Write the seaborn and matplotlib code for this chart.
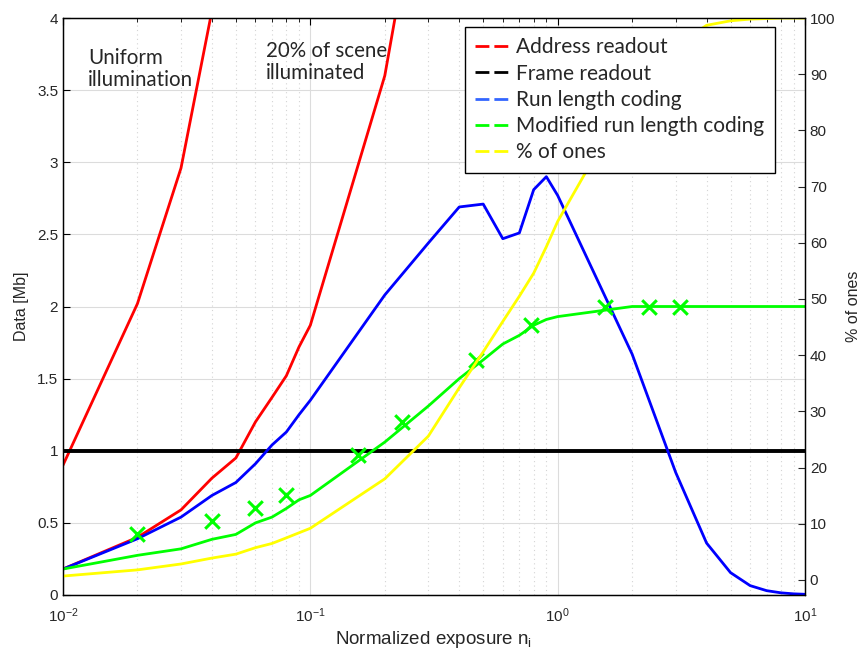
import matplotlib
matplotlib.use("Agg")
import matplotlib.pyplot as plt
import seaborn as sns
from matplotlib.lines import Line2D
from matplotlib.ticker import MultipleLocator, LogLocator, NullFormatter, FormatStrFormatter

# ---- data ----
x_uniform = [0.01, 0.02, 0.03, 0.04, 0.05]
addr_uniform = [0.90, 2.02, 2.96, 4.05, 5.3]

x_scene = [0.01, 0.02, 0.03, 0.04, 0.05, 0.06, 0.07, 0.08, 0.09, 0.1, 0.2, 0.3]
addr_scene = [0.18, 0.40, 0.59, 0.81, 0.95, 1.20, 1.37, 1.52, 1.72, 1.87, 3.60, 5.3]

frame_x = [0.01, 10]
frame_y = [1.0, 1.0]

x_rlc = [0.01, 0.02, 0.03, 0.04, 0.05, 0.06, 0.07, 0.08, 0.09, 0.1, 0.2, 0.3, 0.4, 0.5,
         0.6, 0.7, 0.8, 0.9, 1, 2, 3, 4, 5, 6, 7, 8, 9, 10]
rlc = [0.18, 0.39, 0.54, 0.69, 0.78, 0.91, 1.04, 1.13, 1.25, 1.35, 2.08, 2.44, 2.69, 2.71,
       2.47, 2.51, 2.81, 2.90, 2.77, 1.67, 0.85, 0.36, 0.155, 0.065, 0.03, 0.015, 0.008, 0.005]

x_mrlc = [0.01, 0.02, 0.03, 0.04, 0.05, 0.06, 0.07, 0.08, 0.09, 0.1, 0.2, 0.3, 0.4, 0.5,
          0.6, 0.7, 0.8, 0.9, 1, 2, 3, 4, 5, 6, 7, 8, 9, 10]
mrlc = [0.18, 0.275, 0.32, 0.386, 0.42, 0.50, 0.54, 0.60, 0.66, 0.69, 1.06, 1.31, 1.50, 1.63,
        1.74, 1.80, 1.87, 1.91, 1.93, 2.0, 2.0, 2.0, 2.0, 2.0, 2.0, 2.0, 2.0, 2.0]

# measured points (x markers)
meas_x = [0.02, 0.04, 0.06, 0.08, 0.156, 0.234, 0.468, 0.78, 1.56, 2.34, 3.12]
meas_y = [0.42, 0.515, 0.60, 0.69, 0.97, 1.20, 1.63, 1.87, 2.0, 2.0, 2.0]

x_ones = [0.01, 0.02, 0.03, 0.04, 0.05, 0.06, 0.07, 0.08, 0.09, 0.1, 0.2, 0.3, 0.4, 0.5,
          0.6, 0.7, 0.8, 0.9, 1, 2, 3, 4, 5, 6, 7, 8, 9, 10]
ones = [0.7, 1.8, 2.85, 3.9, 4.6, 5.75, 6.5, 7.5, 8.4, 9.2, 18.0, 25.6, 34.2, 40.6,
        46.0, 50.5, 54.6, 59.3, 63.8, 87.0, 95.0, 98.7, 99.5, 99.8, 99.9, 100, 100, 100]

legend_labels = ["Address readout", "Frame readout", "Run length coding",
                 "Modified run length coding", "% of ones"]
RED, BLACK, BLUE, GREEN, YELLOW = "#ff0000", "#000000", "#0000ff", "#00ff00", "#ffff00"

sns.set_style("white")
plt.rcParams['font.family'] = ['Liberation Sans', 'DejaVu Sans']
plt.rcParams['mathtext.default'] = 'regular'
plt.rcParams['axes.unicode_minus'] = False

fig = plt.figure(figsize=(8.67, 6.56), dpi=100)
ax = fig.add_axes([63 / 867, 1 - 595 / 656, 742 / 867, 577 / 656])

lw = 2.0
sns.lineplot(x=x_uniform, y=addr_uniform, color=RED, lw=lw, errorbar=None, ax=ax)
sns.lineplot(x=x_scene, y=addr_scene, color=RED, lw=lw, errorbar=None, ax=ax)
sns.lineplot(x=frame_x, y=frame_y, color=BLACK, lw=2.8, errorbar=None, ax=ax)
sns.lineplot(x=x_rlc, y=rlc, color=BLUE, lw=lw, errorbar=None, ax=ax)
sns.lineplot(x=x_mrlc, y=mrlc, color=GREEN, lw=lw, errorbar=None, ax=ax)
sns.scatterplot(x=meas_x, y=meas_y, marker="x", s=110, color=GREEN, linewidth=2.2, ax=ax, zorder=4)

ax.set_xscale("log")
ax.set_xlim(0.01, 10)
ax.set_ylim(0, 4)
ax.yaxis.set_major_locator(MultipleLocator(0.5))
ax.yaxis.set_major_formatter(FormatStrFormatter("%g"))
ax.xaxis.set_minor_locator(LogLocator(base=10, subs=range(2, 10)))
ax.xaxis.set_minor_formatter(NullFormatter())
ax.set_axisbelow(True)
ax.grid(which="major", color="#dcdcdc", lw=0.8)
ax.xaxis.grid(which="minor", color="#d4d4d4", lw=0.8, ls=(0, (1, 3)))
ax.tick_params(which="both", direction="in", top=True, right=False, labelsize=11,
               colors="black", labelcolor="#262626")
ax.tick_params(which="major", length=5, width=0.8)
ax.tick_params(which="minor", length=3, width=0.6)
ax.tick_params(axis="x", pad=8)
ax.set_xlabel("Normalized exposure n$_i$", fontsize=13.5, color="#262626", labelpad=3)
ax.set_ylabel("Data [Mb]", fontsize=11.5, color="#262626", labelpad=6)

ax2 = ax.twinx()
sns.lineplot(x=x_ones, y=ones, color=YELLOW, lw=lw, errorbar=None, ax=ax2)
ax2.set_ylim(-2.67, 100)
ax2.yaxis.set_major_locator(MultipleLocator(10))
ax2.tick_params(direction="in", length=5, width=0.8, labelsize=11, labelcolor="#262626")
ax2.set_ylabel("% of ones", fontsize=11.5, color="#262626", labelpad=8)

for a in (ax, ax2):
    for s in a.spines.values():
        s.set_color("black")
        s.set_linewidth(0.9)

ax.text(0.034, 0.948, "Uniform\nillumination", transform=ax.transAxes, family="Lato",
        fontsize=14.8, va="top", linespacing=1.15)
ax.text(0.274, 0.961, "20% of scene\nilluminated", transform=ax.transAxes, family="Lato",
        fontsize=14.8, va="top", linespacing=1.15)

handles = [Line2D([], [], color=c, lw=2, ls=(0, (5, 1.8)))
           for c in (RED, BLACK, "#3366ff", GREEN, YELLOW)]
leg = ax2.legend(handles, legend_labels, loc="upper left", bbox_to_anchor=(0.5418, 0.9844),
                 borderaxespad=0, fancybox=False, edgecolor="black", framealpha=1,
                 handlelength=1.6, handletextpad=0.35, labelspacing=0.30, borderpad=0.5,
                 prop={"family": "Lato", "size": 15})
leg.get_frame().set_linewidth(1.0)

fig.savefig("out.png", dpi=100)
